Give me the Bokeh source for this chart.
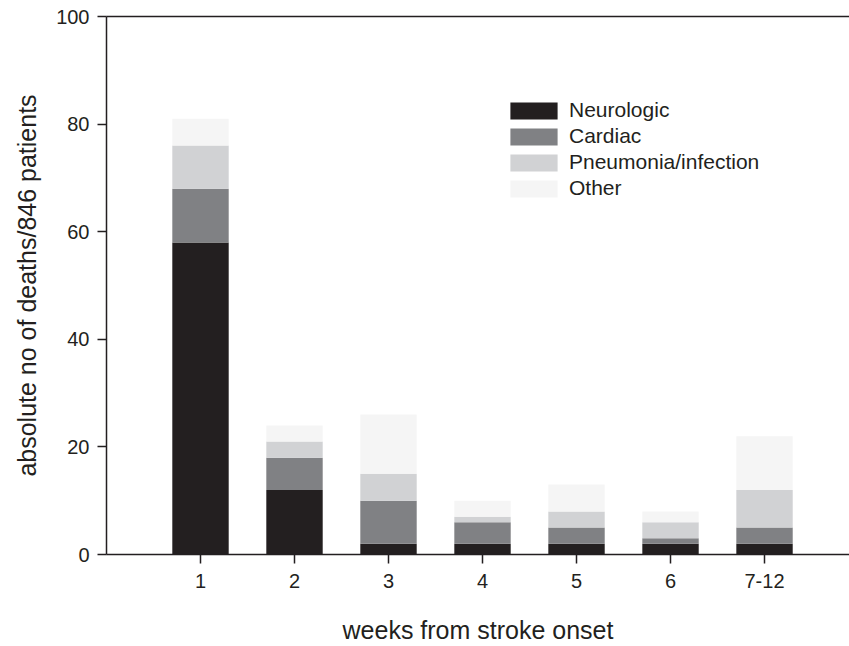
from bokeh.plotting import figure
from bokeh.models import ColumnDataSource, Range1d, FixedTicker, LinearAxis, Legend
from bokeh.embed import file_html
from bokeh.resources import INLINE

weeks = ["1", "2", "3", "4", "5", "6", "7-12"]
positions = [1, 2, 3, 4, 5, 6, 7]
neurologic = [58, 12, 2, 2, 2, 2, 2]
cardiac = [10, 6, 8, 4, 3, 1, 3]
pneumonia = [8, 3, 5, 1, 3, 3, 7]
other = [5, 3, 11, 3, 5, 2, 10]

series = ["Neurologic", "Cardiac", "Pneumonia/infection", "Other"]
colors = ["#231f20", "#808184", "#d1d2d4", "#f5f5f5"]

src = ColumnDataSource(dict(x=positions, Neurologic=neurologic, Cardiac=cardiac,
                            **{"Pneumonia/infection": pneumonia}, Other=other))

FONT = "Liberation Sans"
TXT = "#231f20"

p = figure(width=849, height=646, output_backend="svg", toolbar_location=None,
           x_range=Range1d(0, 7.904), y_range=Range1d(0, 100),
           min_border_left=106, min_border_right=0, min_border_top=16, min_border_bottom=90)
p.outline_line_color = None
p.xgrid.visible = False
p.ygrid.visible = False
p.background_fill_color = "white"

renderers = p.vbar_stack(series, x="x", width=0.6, source=src, color=colors,
                         line_color=None)

legend = Legend(items=[(s, [r]) for s, r in zip(series, renderers)],
                location=(398, 354), orientation="vertical")
legend.border_line_color = None
legend.background_fill_alpha = 0
legend.padding = 0
legend.margin = 0
legend.spacing = 2
legend.glyph_width = 59
legend.glyph_height = 21
legend.label_height = 21
legend.label_standoff = 6
legend.label_text_font = FONT
legend.label_text_font_size = "21px"
legend.label_text_color = TXT
p.add_layout(legend, "center")

for ax in (p.xaxis[0], p.yaxis[0]):
    ax.axis_line_color = TXT
    ax.axis_line_width = 1.5
    ax.major_tick_line_color = TXT
    ax.major_tick_line_width = 1.5
    ax.major_tick_out = 9
    ax.major_tick_in = 0
    ax.minor_tick_line_color = None
    ax.major_label_text_font = FONT
    ax.major_label_text_font_size = "20px"
    ax.major_label_text_color = TXT
    ax.axis_label_text_font = FONT
    ax.axis_label_text_font_size = "25px"
    ax.axis_label_text_font_style = "normal"
    ax.axis_label_text_color = TXT

p.xaxis.ticker = FixedTicker(ticks=positions)
p.xaxis.major_label_overrides = {pos: w for pos, w in zip(positions, weeks)}
p.xaxis.major_label_standoff = 10
p.xaxis.axis_label = "weeks from stroke onset"
p.xaxis.axis_label_standoff = 25

p.yaxis.ticker = FixedTicker(ticks=[0, 20, 40, 60, 80, 100])
p.yaxis.major_label_standoff = 8
p.yaxis.axis_label = "absolute no of deaths/846 patients"
p.yaxis.axis_label_standoff = 12

top = LinearAxis(axis_line_color=TXT, axis_line_width=1.5, major_tick_line_color=None,
                 minor_tick_line_color=None, major_label_text_font_size="0px",
                 ticker=FixedTicker(ticks=[]))
p.add_layout(top, "above")

open("out.html", "w").write(file_html(p, INLINE))
